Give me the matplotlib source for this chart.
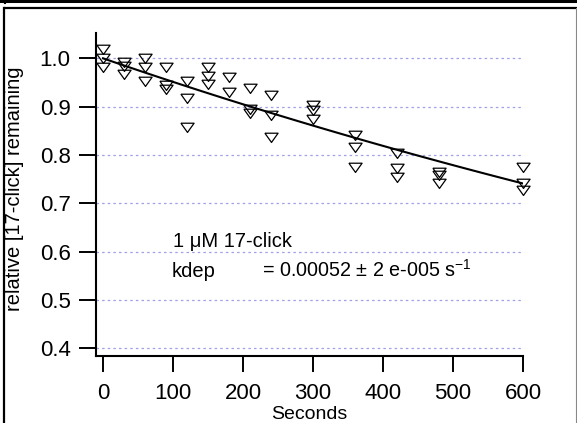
import numpy as np
import matplotlib
matplotlib.use("Agg")
import matplotlib.pyplot as plt
from matplotlib.lines import Line2D

plt.rcParams['font.family'] = ['Liberation Sans', 'DejaVu Sans']
plt.rcParams['mathtext.default'] = 'regular'

# ---- data ----
time_s = [0, 0, 0,
          30, 30, 30,
          60, 60, 60,
          90, 90, 90,
          120, 120, 120,
          150, 150, 150,
          180, 180,
          210, 210, 210,
          240, 240, 240,
          300, 300, 300,
          360, 360, 360,
          420, 420, 420,
          480, 480, 480,
          600, 600, 600]
remaining = [1.020, 1.000, 0.983,
             0.993, 0.985, 0.968,
             1.000, 0.983, 0.952,
             0.981, 0.945, 0.936,
             0.952, 0.917, 0.858,
             0.981, 0.963, 0.947,
             0.962, 0.931,
             0.938, 0.896, 0.886,
             0.924, 0.883, 0.838,
             0.903, 0.893, 0.874,
             0.841, 0.817, 0.776,
             0.803, 0.772, 0.755,
             0.765, 0.758, 0.741,
             0.776, 0.741, 0.727]
fit_A = 1.0
fit_k = 0.0005
fit_t = np.linspace(0, 600, 61)

x_ticks = [0, 100, 200, 300, 400, 500, 600]
y_ticks = [0.4, 0.5, 0.6, 0.7, 0.8, 0.9, 1.0]
y_tick_labels = ["0.4", "0.5", "0.6", "0.7", "0.8", "0.9", "1.0"]

W, H = 577, 423
fig = plt.figure(figsize=(W / 100, H / 100), dpi=100)
fig.patch.set_facecolor('white')

ax = fig.add_axes([96 / W, (H - 355.5) / H, (523 - 96) / W, (355.5 - 33) / H])
ax.set_xlim(-10, 600)
ax.set_ylim(0.3847, 1.0524)

for yv in y_ticks:
    ax.axhline(yv, color='#a0a0e6', lw=0.9, ls=(0, (2.0, 2.5)), zorder=1)

fit_y = fit_A * np.exp(-fit_k * fit_t)
ax.plot(fit_t, fit_y, color='black', lw=1.5, zorder=3)

tri = [(-1, 0.65), (1, 0.65), (0, -0.75), (-1, 0.65)]
ax.plot(time_s, remaining, ls='none', marker=tri, markersize=9.5,
        markerfacecolor='none', markeredgecolor='black', markeredgewidth=0.9,
        zorder=4, clip_on=False)

for s in ['top', 'right']:
    ax.spines[s].set_visible(False)
for s in ['left', 'bottom']:
    ax.spines[s].set_linewidth(1.5)

ax.set_xticks(x_ticks)
ax.set_yticks(y_ticks)
ax.set_yticklabels(y_tick_labels)
ax.tick_params(axis='y', direction='out', length=12.2, width=1.4, pad=6, labelsize=16)
ax.tick_params(axis='x', direction='out', length=11.5, width=1.4, pad=8, labelsize=16)

ax.set_xlabel("Seconds", fontsize=14, va='center')
ax.xaxis.set_label_coords(0.5, (355.5 - 414) / 322.5)
ax.set_ylabel("relative [17-click] remaining", fontsize=14.5, va='center')
ax.yaxis.set_label_coords((15 - 96) / 427, (355.5 - 189) / 322.5)

fig.text(173 / W, 1 - 247 / H, "1 μM 17-click", fontsize=14.5, va='baseline', ha='left')
fig.text(172 / W, 1 - 277 / H, "kdep", fontsize=14.5, va='baseline', ha='left')
fig.text(262 / W, 1 - 277 / H, "= 0.00052 ± 2 e-005 s$^{-1}$", fontsize=14.2,
         va='baseline', ha='left')

# panel frame lines
def fline(x0, y0, x1, y1, lw, color='black'):
    fig.add_artist(Line2D([x0 / W, x1 / W], [1 - y0 / H, 1 - y1 / H],
                          transform=fig.transFigure, color=color, lw=lw))

fline(0, 1.5, W, 1.5, 2.2)
fline(5, 0, 5, 3, 1.5)
fline(5, 8, W, 8, 1.6)
fline(4, 8, 4, H, 1.6)
fline(576, 8, 576, H, 0.8, color='#888888')

fig.savefig("out.png", dpi=100)
